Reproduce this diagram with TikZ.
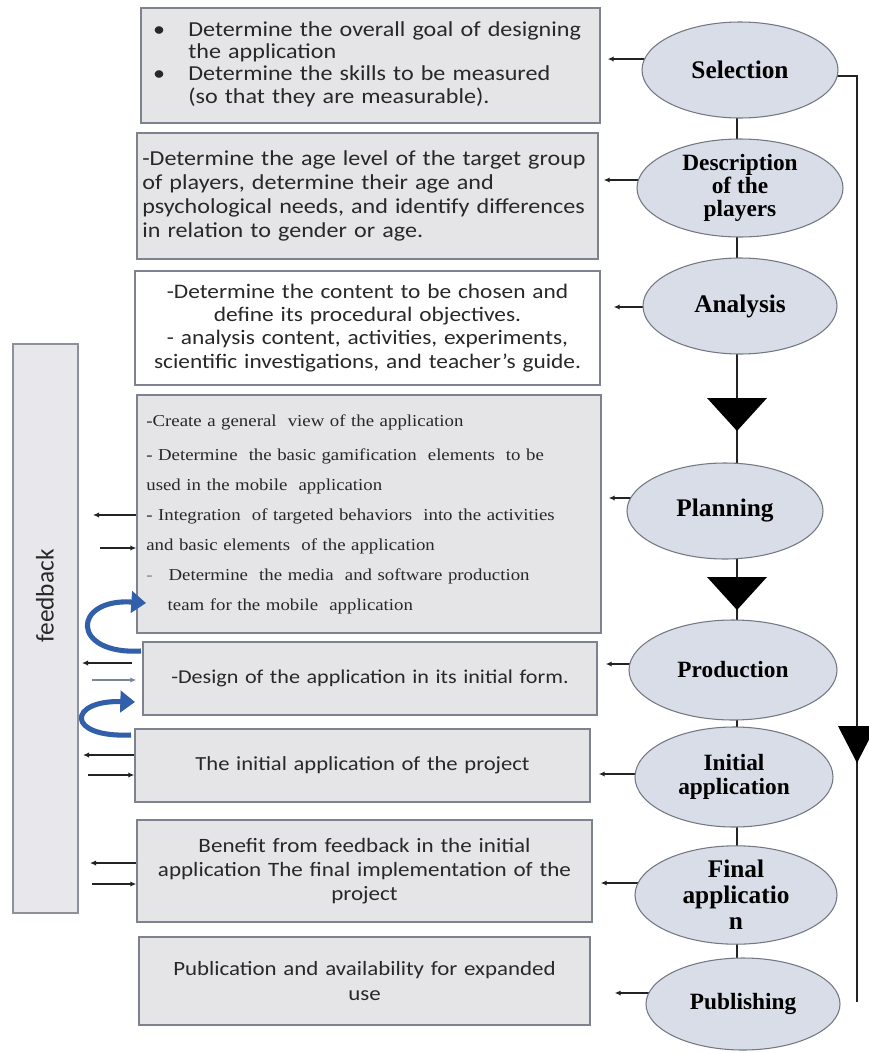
\documentclass[tikz,border=0pt]{standalone}
\usepackage{fontspec}
\setmainfont[FakeStretch=1.13]{Carlito}
\newfontfamily\plainfont{Carlito}
\newfontfamily\tmsfont{Liberation Serif}
\newfontfamily\tmswide[FakeStretch=1.13]{Liberation Serif}
\usetikzlibrary{arrows.meta,backgrounds,shapes.geometric}
\definecolor{boxfill}{RGB}{229,229,231}
\definecolor{boxline}{RGB}{125,130,142}
\definecolor{ellfill}{RGB}{216,221,232}
\definecolor{ellline}{RGB}{115,120,132}
\definecolor{txtgray}{RGB}{40,40,40}
\definecolor{fbblue}{RGB}{50,95,170}
\definecolor{barfill}{RGB}{232,232,236}
\definecolor{barline}{RGB}{140,145,155}
\definecolor{linegray}{RGB}{35,35,35}
\definecolor{lightarr}{RGB}{120,135,150}
\newcommand\boxfont{\fontsize{16}{16.5}\selectfont}
\newcommand\ellfont{\tmsfont\bfseries\fontsize{17.5}{17.5}\selectfont}
\newcommand\ellbig{\tmsfont\bfseries\fontsize{19}{19}\selectfont}
\begin{document}
\begin{tikzpicture}[x=0.75pt,y=-0.75pt,
  box/.style={draw=boxline,fill=boxfill,line width=1.1pt,inner xsep=7pt,inner ysep=0pt,font=\boxfont,text=txtgray},
  ell/.style={ellipse,draw=ellline,fill=ellfill,line width=0.8pt,inner sep=0pt,align=center,font=\ellfont,text=black},
  conn/.style={draw=linegray,line width=0.9pt},
  tip/.style={conn,-{Latex[length=4.5pt,width=4pt]}},
  bluearr/.style={draw=fbblue,line width=3.8pt,-{Triangle[length=11pt,width=16pt]}}
]
\useasboundingbox (0,0) rectangle (868,1053);
% boxes
\node[box,minimum width=344.25pt,minimum height=86.25pt,text width=330.25pt,align=left] (b1) at (370.5,65.5)
 {\begin{tabular}{@{\hspace{2pt}}p{26.5pt}@{}l@{}}
 \textbullet & Determine the overall goal of designing\\
  & the application\\
 \textbullet & Determine the skills to be measured\\
  & (so that they are measurable).
 \end{tabular}};
\node[box,inner xsep=4pt,minimum width=345.75pt,minimum height=94.5pt,text width=337.75pt,align=left,
      font=\fontsize{16}{18.2}\selectfont] (b2) at (367.5,196)
 {-Determine the age level of the target group\\
  of players, determine their age and\\
  psychological needs, and identify differences\\
  in relation to gender or age.};
\node[box,fill=white,minimum width=348.75pt,minimum height=85.5pt,text width=334.75pt,align=center,
      font=\fontsize{15.5}{17.3}\selectfont] (b3) at (367.5,328)
 {-Determine the content to be chosen and\\
  define its procedural objectives.\\
  - analysis content, activities, experiments,\\
  scientific investigations, and teacher's guide.};
\node[box,minimum width=348pt,minimum height=178.5pt,text width=334pt,align=left,
      font=\tmswide\fontsize{12.5}{22.5}\selectfont] (b4) at (369,514)
 {-Create a general\ \ view of the application\\[3pt]
  - Determine\ \ the basic gamification\ \ elements\ \ to be\\
  used in the mobile\ \ application\\
  - Integration\ \ of targeted behaviors\ \ into the activities\\
  and basic elements\ \ of the application\\
  {\color{gray}-}\hspace{12pt}Determine\ \ the media\ \ and software production\\
  \hspace{16pt}team for the mobile\ \ application};
\node[box,minimum width=340.5pt,minimum height=54.75pt,text width=326.5pt,align=center,
      font=\fontsize{14.7}{17}\selectfont] (b5) at (370,678.5)
 {-Design of the application in its initial form.};
\node[box,minimum width=341.25pt,minimum height=54.75pt,text width=327.25pt,align=center,
      font=\fontsize{15}{17}\selectfont] (b6) at (362.5,765.5)
 {The initial application of the project};
\node[box,minimum width=341.25pt,minimum height=76.5pt,text width=327.25pt,align=center,
      font=\fontsize{15.3}{18}\selectfont] (b7) at (364.5,871)
 {Benefit from feedback in the initial\\
  application The final implementation of the\\
  project};
\node[box,minimum width=338.25pt,minimum height=66pt,text width=324.25pt,align=center,
      font=\fontsize{15.2}{18.5}\selectfont] (b8) at (364.5,981)
 {Publication and availability for expanded\\ use};
% feedback bar
\node[draw=barline,fill=barfill,line width=1pt,minimum width=48.75pt,minimum height=426.75pt,inner sep=0pt] (fb) at (45.5,628.5) {};
\node[rotate=90,font=\plainfont\fontsize{19}{19}\selectfont,text=txtgray] (fbl) at (45,596) {feedback};
% ellipses
\node[ell,minimum width=147pt,minimum height=72pt,font=\ellbig] (e1) at (740,70) {Selection};
\node[ell,minimum width=154.5pt,minimum height=73.5pt] (e2) at (740,188) {Description\\of the\\players};
\node[ell,minimum width=145.5pt,minimum height=72pt,font=\ellbig] (e3) at (740,306) {Analysis};
\node[ell,minimum width=147pt,minimum height=72pt,font=\ellbig] (e4) at (725,511) {Planning};
\node[ell,minimum width=156pt,minimum height=75pt] (e5) at (733,670) {Production};
\node[ell,minimum width=148.5pt,minimum height=75pt] (e6) at (734,777) {Initial\\application};
\node[ell,minimum width=151.5pt,minimum height=72pt,font=\tmsfont\bfseries\fontsize{19}{19.5}\selectfont] (e7) at (736,895) {Final\\applicatio\\n};
\node[ell,minimum width=145.5pt,minimum height=69pt] (e8) at (743,1004) {Publishing};
% coordinates
\coordinate (sp) at (737,0);
\coordinate (a1) at (0,59);
\coordinate (a2) at (0,180);
\coordinate (a3) at (0,307);
\coordinate (a4) at (0,498);
\coordinate (a5) at (0,664);
\coordinate (a6) at (0,774);
\coordinate (a7) at (0,883);
\coordinate (a8) at (0,993);
\coordinate (rtop) at (857,76);
\coordinate (rbot) at (857,1002);
\coordinate (f1) at (93,515);
\coordinate (f2) at (100,548);
\coordinate (f3) at (82,663);
\coordinate (f4) at (92,680);
\coordinate (f5) at (83,755);
\coordinate (f6) at (88,775);
\coordinate (f7) at (90,863);
\coordinate (f8) at (92,884);
\coordinate (c1s) at (141,651);
\coordinate (c1e) at (146,603);
\coordinate (c2s) at (131,735);
\coordinate (c2e) at (135,702);
\begin{pgfonlayer}{background}
  \fill[white] (0,0) rectangle (868,1053);
  % spine
  \draw[conn] (e1 -| sp) -- (e2 -| sp) -- (e3 -| sp) -- (e4 -| sp) -- (e5 -| sp) -- (e6 -| sp) -- (e7 -| sp) -- (e8 -| sp);
  % right line
  \draw[conn] (e1 |- rtop) -- (rtop) -- (rbot);
  % ellipse to box
  \draw[tip,shorten >=5.25pt] (e1 |- a1) -- (b1.east |- a1);
  \draw[tip,shorten >=3.75pt] (e2 |- a2) -- (b2.east |- a2);
  \draw[tip,shorten >=9.75pt] (e3 |- a3) -- (b3.east |- a3);
  \draw[tip,shorten >=5.25pt] (e4 |- a4) -- (b4.east |- a4);
  \draw[tip,shorten >=6pt] (e5 |- a5) -- (b5.east |- a5);
  \draw[tip,shorten >=6pt] (e6 |- a6) -- (b6.east |- a6);
  \draw[tip,shorten >=6pt] (e7 |- a7) -- (b7.east |- a7);
  \draw[tip,shorten >=18pt] (e8 |- a8) -- (b8.east |- a8);
\end{pgfonlayer}
% triangles on spine
\fill[black] (707,398) -- (767,398) -- (737,431) -- cycle;
\fill[black] (707,577) -- (767,577) -- (737,610) -- cycle;
\fill[black] (838,726) -- (876,726) -- (857,763) -- cycle;
% feedback arrows
\draw[tip] (b4.west |- f1) -- (f1);
\draw[tip] (f2) -- (b4.west |- f2);
\draw[tip,shorten <=8pt] (b5.west |- f3) -- (f3);
\draw[tip,draw=lightarr,shorten >=4.5pt] (f4) -- (b5.west |- f4);
\draw[tip] (b6.west |- f5) -- (f5);
\draw[tip] (f6) -- (b6.west |- f6);
\draw[tip] (b7.west |- f7) -- (f7);
\draw[tip] (f8) -- (b7.west |- f8);
% blue curved arrows
\draw[bluearr] (c1s) .. controls (70,655) and (72,598) .. (c1e);
\draw[bluearr] (c2s) .. controls (65,738) and (68,700) .. (c2e);
\end{tikzpicture}
\end{document}
